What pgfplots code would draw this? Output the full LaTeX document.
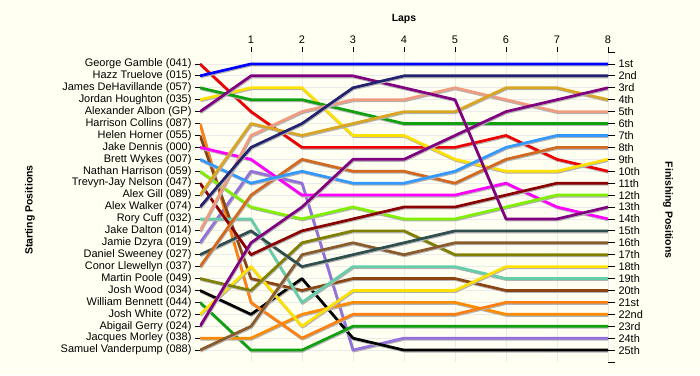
\documentclass[border=0pt]{standalone}
\usepackage{fontspec}
\setmainfont{Liberation Sans}
\usepackage{pgfplots}
\usepackage{pgfplotstable}
\pgfplotsset{compat=1.18}

\definecolor{bg}{HTML}{FFFFF2}
\definecolor{cBlue}{HTML}{0000FF}
\definecolor{cNavy}{HTML}{22226E}
\definecolor{cPurple}{HTML}{800080}
\definecolor{cGold}{HTML}{DAA520}
\definecolor{cSalmon}{HTML}{F09C80}
\definecolor{cGreen}{HTML}{10A010}
\definecolor{cDodger}{HTML}{3399FF}
\definecolor{cChoc}{HTML}{D2691E}
\definecolor{cYellow}{HTML}{FFE100}
\definecolor{cRed}{HTML}{EE0000}
\definecolor{cDarkRed}{HTML}{8B0000}
\definecolor{cLime}{HTML}{80F000}
\definecolor{cMagenta}{HTML}{FF00FF}
\definecolor{cSlate}{HTML}{2F4F4F}
\definecolor{cBrownA}{HTML}{8B5A2B}
\definecolor{cOlive}{HTML}{808000}
\definecolor{cTeal}{HTML}{66CDAA}
\definecolor{cBrownB}{HTML}{8B4513}
\definecolor{cOrangeA}{HTML}{FF8C00}
\definecolor{cOrangeB}{HTML}{FF8010}
\definecolor{cLavender}{HTML}{9370DB}

\pgfplotstableread{
lap blue navy purpleB gold salmon green dodger choc yellow red darkred lime purpleA magenta slate brownA olive yellowB teal brownB orangeB orangeA greenB lavender black
0 2 13 23 12 15 3 9 18 4 1 11 10 5 8 17 25 19 22 14 7 6 24 21 16 20
1 1 8 16 6 7 4 11 12 3 5 17 13 2 9 15 23 20 18 14 19 21 24 25 10 22
2 1 6 13 7 5 4 10 9 3 8 15 14 2 12 18 17 16 23 21 20 24 22 25 11 19
3 1 3 9 6 4 5 11 10 7 8 14 13 2 12 17 16 15 20 18 19 22 21 23 25 24
4 1 2 9 5 4 6 11 10 7 8 13 14 3 12 16 17 15 20 18 19 22 21 23 24 25
5 1 2 7 5 3 6 10 11 9 8 13 14 4 12 15 16 17 20 18 19 22 21 23 24 25
6 1 2 5 3 4 6 8 9 10 7 12 13 14 11 15 16 17 18 19 20 21 22 23 24 25
7 1 2 4 3 5 6 7 8 10 9 11 12 14 13 15 16 17 18 19 20 21 22 23 24 25
8 1 2 3 4 5 6 7 8 9 10 11 12 13 14 15 16 17 18 19 20 21 22 23 24 25
}\data

\pgfplotsset{
  bump/.style={line width=2.7bp, line join=round, color=#1,
    preaction={draw=black!30, line width=2.7bp, transform canvas={xshift=0.6bp,yshift=-1.1bp}}},
  common/.style={
    at={(0,0)}, anchor=south west,
    scale only axis, width=408bp, height=310bp,
    xmin=0, xmax=8, ymin=0, ymax=26, y dir=reverse,
    axis line style={black, line width=0.8bp},
    x axis line style={draw=none},
    tick style={black, line width=0.8bp},
    tick align=outside, major tick length=5bp,
    tick label style={font=\fontsize{11}{12}\selectfont},
    label style={font=\fontsize{10.5}{12}\selectfont\bfseries},
    /pgf/number format/assume math mode=true,
  }
}

\begin{document}
\begin{tikzpicture}[x=1bp,y=1bp]
\path[fill=bg, use as bounding box] (-200,-13) rectangle (500,362);
\begin{axis}[common,
  xtick={1,2,3,4,5,6,7,8},
  xtick pos=right, xticklabel pos=right,
  ytick={1,...,25},
  ytick pos=left, yticklabel pos=left,
  yticklabels={George Gamble (041),Hazz Truelove (015),James DeHavillande (057),Jordan Houghton (035),Alexander Albon (GP),Harrison Collins (087),Helen Horner (055),Jake Dennis (000),Brett Wykes (007),Nathan Harrison (059),Trevyn-Jay Nelson (047),Alex Gill (089),Alex Walker (074),Rory Cuff (032),Jake Dalton (014),Jamie Dzyra (019),Daniel Sweeney (027),Conor Llewellyn (037),Martin Poole (049),Josh Wood (034),William Bennett (044),Josh White (072),Abigail Gerry (024),Jacques Morley (038),Samuel Vanderpump (088)},
  grid=major, grid style={draw=black!8, line width=0.8bp},
  title={Laps}, title style={font=\fontsize{10.5}{12}\selectfont\bfseries, at={(axis description cs:0.5,1)}, anchor=center, yshift=27bp},
  ylabel={Starting Positions}, ylabel style={at={(axis description cs:-0.417,0.49)}, anchor=center},
  no markers,
]
\addplot[bump=cLavender] table[x=lap,y=lavender]{\data};
\addplot[bump=black] table[x=lap,y=black]{\data};
\addplot[bump=cGreen] table[x=lap,y=greenB]{\data};
\addplot[bump=cOrangeA] table[x=lap,y=orangeA]{\data};
\addplot[bump=cOrangeB] table[x=lap,y=orangeB]{\data};
\addplot[bump=cBrownB] table[x=lap,y=brownB]{\data};
\addplot[bump=cTeal] table[x=lap,y=teal]{\data};
\addplot[bump=cYellow] table[x=lap,y=yellowB]{\data};
\addplot[bump=cOlive] table[x=lap,y=olive]{\data};
\addplot[bump=cBrownA] table[x=lap,y=brownA]{\data};
\addplot[bump=cSlate] table[x=lap,y=slate]{\data};
\addplot[bump=cMagenta] table[x=lap,y=magenta]{\data};
\addplot[bump=cLime] table[x=lap,y=lime]{\data};
\addplot[bump=cDarkRed] table[x=lap,y=darkred]{\data};
\addplot[bump=cRed] table[x=lap,y=red]{\data};
\addplot[bump=cYellow] table[x=lap,y=yellow]{\data};
\addplot[bump=cChoc] table[x=lap,y=choc]{\data};
\addplot[bump=cDodger] table[x=lap,y=dodger]{\data};
\addplot[bump=cGreen] table[x=lap,y=green]{\data};
\addplot[bump=cSalmon] table[x=lap,y=salmon]{\data};
\addplot[bump=cGold] table[x=lap,y=gold]{\data};
\addplot[bump=cPurple] table[x=lap,y=purpleB]{\data};
\addplot[bump=cPurple] table[x=lap,y=purpleA]{\data};
\addplot[bump=cNavy] table[x=lap,y=navy]{\data};
\addplot[bump=cBlue] table[x=lap,y=blue]{\data};
\end{axis}
\begin{axis}[common,
  xtick=\empty,
  ytick={0,...,26},
  ytick pos=right, yticklabel pos=right,
  major tick length=7bp,
  yticklabels={,1st,2nd,3rd,4th,5th,6th,7th,8th,9th,10th,11th,12th,13th,14th,15th,16th,17th,18th,19th,20th,21st,22nd,23rd,24th,25th,},
  ylabel={Finishing Positions}, ylabel style={at={(axis description cs:1.147,0.49)}, anchor=center, rotate=180},
]
\end{axis}
\end{tikzpicture}
\end{document}
